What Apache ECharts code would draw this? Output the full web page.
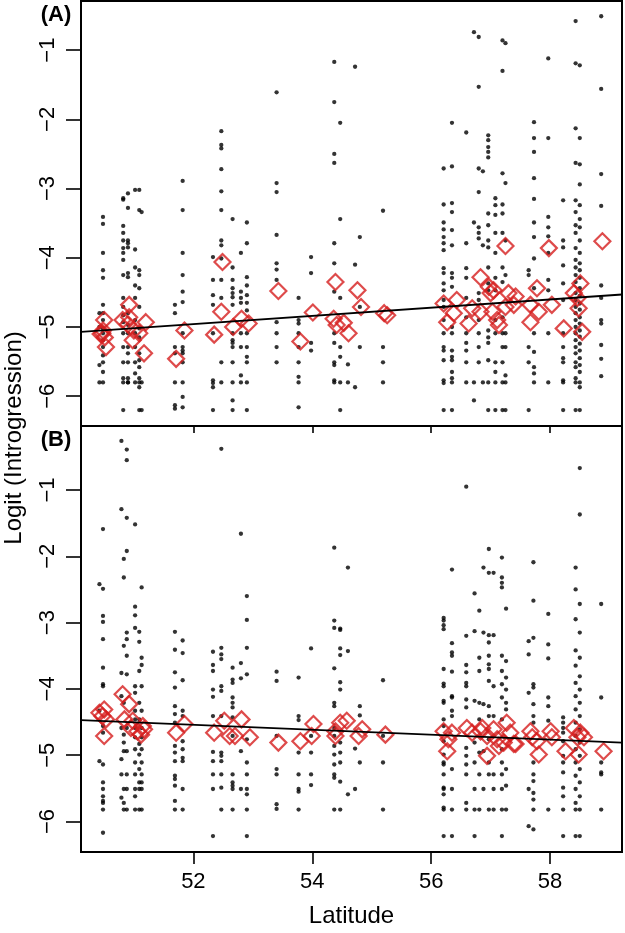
<!DOCTYPE html>
<html>
<head>
<meta charset="utf-8">
<script src="https://cdn.jsdelivr.net/npm/echarts@6/dist/echarts.min.js"></script>
<style>
html,body{margin:0;padding:0;background:#fff;}
#chart{width:625px;height:933px;}
</style>
</head>
<body>
<div id="chart"></div>
<script>
// ---------- tick labels ----------
const xTicks = [52, 54, 56, 58];
const yTicks = [-6, -5, -4, -3, -2, -1];

// ---------- Panel A: individual observations (column latitude + values) ----------
const colLatA = [50.42, 50.48, 50.82, 50.90, 51.02, 51.09, 51.13, 51.69, 51.82, 52.33, 52.47, 52.66, 52.80, 52.90, 53.40, 53.77, 53.98, 54.37, 54.47, 54.60, 54.72, 54.80, 55.19, 56.21, 56.35, 56.59, 56.72, 56.80, 56.87, 56.96, 57.08, 57.20, 57.25, 57.64, 57.73, 57.97, 58.22, 58.43, 58.50, 58.86];
const colValA = [
  [-4.80, -5.00, -5.55, -5.80],
  [-3.41, -3.51, -3.93, -4.18, -4.29, -4.68, -4.80, -4.90, -5.02, -5.09, -5.19, -5.29, -5.41, -5.51, -5.65, -5.80],
  [-3.14, -3.16, -3.54, -3.64, -3.75, -3.86, -3.93, -4.03, -4.25, -4.58, -4.71, -4.83, -4.93, -5.09, -5.29, -5.51, -5.74, -5.80, -6.20],
  [-3.07, -3.28, -3.75, -3.79, -3.85, -4.22, -4.28, -4.80, -4.97, -5.09, -5.29, -5.38, -5.51, -5.74, -5.80, -5.80],
  [-3.02, -3.88, -4.14, -4.40, -4.58, -4.90, -5.09, -5.29, -5.51, -5.67, -5.80],
  [-3.02, -3.31, -4.18, -4.25, -4.44, -4.71, -5.02, -5.15, -5.38, -5.48, -5.58, -5.74, -5.80, -5.87, -6.20],
  [-3.34, -5.80, -6.20],
  [-4.68, -4.80, -5.29, -5.38, -5.80, -6.13, -6.18],
  [-2.89, -3.31, -3.93, -4.25, -4.49, -4.64, -5.09, -5.29, -5.34, -5.38, -5.51, -5.80, -6.01, -6.16],
  [-3.99, -4.32, -4.54, -4.68, -5.09, -5.77, -5.81, -5.87, -6.20],
  [-2.17, -2.37, -2.42, -2.72, -3.04, -3.31, -3.75, -3.82, -4.01, -4.32, -4.58, -5.51, -5.80],
  [-3.44, -4.14, -4.32, -4.44, -4.51, -4.57, -4.68, -5.09, -5.19, -5.23, -5.29, -5.51, -5.80, -6.06, -6.20],
  [-3.93, -4.49, -4.58, -4.65, -5.09, -5.29, -5.70, -5.80],
  [-3.49, -3.79, -4.28, -4.40, -4.54, -4.65, -4.76, -5.09, -5.29, -5.43, -5.51, -5.80, -6.20],
  [-1.61, -2.92, -3.05, -3.67, -4.08, -4.17, -4.32, -4.93, -5.09, -5.29, -5.51],
  [-4.58, -4.90, -4.95, -5.09, -5.29, -5.51, -5.72, -5.80, -6.16],
  [-3.99, -4.22, -5.23, -5.34],
  [-1.17, -1.75, -2.50, -2.63, -3.79, -4.08, -4.49, -5.09, -5.23, -5.51, -5.55, -5.77, -5.80],
  [-2.05, -3.44, -4.58, -5.29, -5.43, -5.80, -6.20],
  [-5.54, -5.80],
  [-1.24, -4.10, -5.87],
  [-3.70, -4.71, -5.29],
  [-3.32, -5.29, -5.51, -5.80],
  [-2.71, -3.23, -3.49, -3.59, -3.70, -3.79, -3.89, -4.15, -4.22, -4.37, -4.47, -4.61, -4.71, -4.90, -5.09, -5.29, -5.34, -5.48, -5.77, -5.81, -6.20],
  [-2.05, -2.68, -3.21, -3.34, -3.60, -3.82, -4.22, -4.29, -4.42, -5.00, -5.09, -5.34, -5.43, -5.48, -5.65, -5.74, -5.80, -6.20],
  [-2.19, -3.79, -4.15, -4.29, -4.58, -4.86, -5.09, -5.23, -5.34, -5.51, -5.80],
  [-0.74, -3.49, -5.80, -6.06],
  [-0.81, -1.53, -2.71, -3.05, -3.56, -3.64, -3.72, -4.51, -4.61, -4.90, -5.09, -5.29, -5.51],
  [-2.75, -3.82, -5.80],
  [-2.23, -2.30, -2.40, -2.47, -2.55, -3.36, -3.53, -3.75, -3.85, -4.14, -4.37, -4.47, -5.05, -5.15, -5.23, -5.48, -5.80, -6.20],
  [-3.14, -3.24, -3.38, -3.64, -3.93, -4.29, -4.47, -4.90, -5.09, -5.51, -5.65, -5.80, -6.20],
  [-0.86, -1.30, -2.78, -3.23, -3.36, -3.64, -4.14, -4.35, -4.86, -5.09, -5.29, -5.51, -5.80, -6.20],
  [-0.90, -2.92, -3.75, -4.25, -5.09, -5.29, -5.70, -5.80, -6.20],
  [-4.18, -4.25, -5.29, -5.51, -6.20],
  [-2.04, -2.27, -2.47, -2.85, -3.15, -3.49, -3.70, -4.01, -4.44, -5.09, -5.36, -5.58, -5.67, -5.80],
  [-1.12, -2.27, -3.41, -3.56, -3.69, -3.93, -4.32, -4.47, -5.09, -5.80],
  [-3.17, -3.75, -3.85, -4.11, -4.37, -4.61, -5.09, -5.29, -5.45, -5.51, -5.77, -5.80, -6.20],
  [-0.58, -1.19, -2.13, -2.63, -3.17, -3.34, -3.53, -3.64, -3.86, -4.03, -4.14, -4.25, -4.35, -4.51, -4.61, -4.71, -4.80, -4.90, -5.00, -5.09, -5.19, -5.29, -5.38, -5.51, -5.58, -5.74, -5.80, -6.20],
  [-1.22, -2.27, -2.65, -2.94, -3.24, -3.44, -3.56, -3.75, -3.93, -4.08, -4.18, -4.29, -4.44, -4.55, -4.66, -4.75, -4.86, -4.95, -5.05, -5.14, -5.24, -5.34, -5.45, -5.55, -5.65, -5.80, -5.87, -6.20],
  [-0.51, -1.56, -2.79, -3.25, -4.40, -4.58, -4.90, -4.95, -5.26, -5.46, -5.71]
];

// ---------- Panel A: population means (red diamonds) ----------
const meanLatA = [50.50, 50.47, 50.51, 50.44, 50.48, 50.53, 50.92, 50.81, 50.92, 50.90, 51.00, 50.98, 51.20, 51.09, 51.17, 51.85, 51.71, 52.35, 52.49, 52.47, 52.67, 52.81, 52.93, 53.43, 53.80, 54.01, 54.39, 54.36, 54.41, 54.53, 54.61, 54.76, 54.82, 55.21, 55.26, 56.21, 56.27, 56.38, 56.43, 56.63, 56.69, 56.83, 56.83, 56.97, 57.05, 57.00, 57.03, 57.11, 57.14, 57.25, 57.30, 57.39, 57.25, 57.42, 57.67, 57.67, 57.78, 57.81, 58.03, 57.98, 58.23, 58.40, 58.51, 58.46, 58.48, 58.54, 58.88];
const meanValA = [-4.90, -5.09, -5.15, -5.10, -5.05, -5.29, -4.68, -4.90, -4.86, -4.96, -5.05, -5.19, -4.93, -5.09, -5.38, -5.05, -5.46, -5.11, -4.06, -4.78, -5.00, -4.88, -4.95, -4.48, -5.21, -4.79, -4.35, -4.88, -4.97, -4.94, -5.09, -4.47, -4.71, -4.80, -4.83, -4.66, -4.93, -4.80, -4.61, -4.95, -4.73, -4.28, -4.78, -4.42, -4.47, -4.51, -4.78, -4.90, -4.97, -4.71, -4.51, -4.68, -3.83, -4.56, -4.68, -4.93, -4.44, -4.78, -4.68, -3.86, -5.02, -4.51, -4.37, -4.58, -4.73, -5.07, -3.76];

// ---------- Panel B: individual observations ----------
const colLatB = [50.42, 50.48, 50.79, 50.83, 50.88, 51.02, 51.09, 51.13, 51.69, 51.82, 52.33, 52.47, 52.66, 52.80, 52.90, 53.40, 53.77, 53.98, 54.37, 54.47, 54.60, 54.72, 54.80, 55.19, 56.21, 56.35, 56.59, 56.73, 56.81, 56.88, 56.97, 57.05, 57.19, 57.26, 57.64, 57.72, 57.97, 58.22, 58.43, 58.50, 58.86];
const colValB = [
  [-2.42, -4.33, -5.09],
  [-1.59, -2.49, -2.90, -2.99, -3.25, -3.68, -3.93, -3.96, -4.56, -4.66, -5.14, -5.41, -5.51, -5.62, -5.69, -5.72, -5.82, -6.17],
  [-0.26, -1.29, -3.76, -4.11, -4.59, -5.06, -5.29, -5.64],
  [-2.04, -2.32, -3.35, -4.21, -4.69, -4.81, -4.94, -5.51, -5.72, -5.82],
  [-0.39, -0.55, -1.42, -1.92, -3.15, -3.25, -3.50, -3.78, -4.59, -4.94, -5.29, -5.51, -5.82],
  [-1.52, -2.76, -2.89, -3.08, -3.96, -4.06, -4.33, -4.46, -4.59, -4.73, -4.91, -5.11, -5.29, -5.51, -5.62, -5.82],
  [-3.14, -3.29, -3.73, -4.21, -4.46, -4.83, -4.99, -5.21, -5.41, -5.51, -5.82],
  [-2.47, -3.53, -3.64, -3.96, -4.33, -4.59, -4.73, -4.91, -5.11, -5.29, -5.41, -5.51, -5.82],
  [-3.14, -3.41, -3.75, -3.98, -4.26, -4.38, -4.51, -4.86, -4.96, -5.09, -5.31, -5.36, -5.46, -5.69, -5.82],
  [-3.27, -3.46, -3.87, -4.33, -4.41, -4.79, -4.91, -5.04, -5.09, -5.51, -5.82],
  [-3.44, -3.64, -3.73, -4.01, -4.12, -4.41, -4.95, -5.09, -5.29, -5.51, -6.22],
  [-0.38, -3.38, -3.48, -3.55, -3.96, -4.03, -4.41, -4.96, -5.01, -5.09, -5.29, -5.49, -5.82],
  [-3.68, -3.86, -3.91, -4.13, -4.21, -4.28, -4.43, -4.71, -5.29, -5.41, -5.46, -5.51, -5.82],
  [-1.66, -3.61, -3.84, -4.94, -5.51],
  [-2.60, -2.96, -3.38, -3.78, -4.76, -5.11, -5.29, -5.51, -5.59, -5.82, -6.22],
  [-3.74, -3.88, -4.71, -5.21, -5.29, -5.74, -5.81],
  [-3.83, -4.41, -4.47, -4.96, -5.29, -5.51, -5.55, -5.82],
  [-3.39, -4.71, -4.96, -5.29, -5.45],
  [-1.87, -2.97, -3.08, -3.69, -4.21, -4.26, -4.59, -4.71, -4.86, -4.99, -5.14, -5.29, -5.34, -5.82],
  [-3.09, -3.11, -3.39, -3.49, -3.90, -4.01, -4.81, -4.96, -5.11, -5.40, -5.82],
  [-2.17, -3.43, -5.59],
  [-4.90, -5.51],
  [-4.26, -4.40, -5.11],
  [-3.87, -4.71, -5.11, -5.82],
  [-2.93, -2.97, -3.04, -3.10, -3.70, -3.92, -3.96, -4.18, -4.21, -4.46, -4.56, -4.79, -4.99, -5.11, -5.14, -5.29, -5.49, -5.51, -5.59, -5.79, -5.82, -6.22],
  [-2.20, -3.31, -3.45, -3.50, -3.74, -4.11, -4.13, -4.33, -4.41, -5.21, -5.51, -5.82, -6.22],
  [-0.95, -3.20, -3.64, -3.75, -3.91, -3.96, -4.16, -4.28, -4.89, -5.01, -5.14, -5.29, -5.72, -5.82],
  [-2.56, -3.13, -4.18, -4.81, -5.11, -5.51, -5.82, -6.22],
  [-2.82, -3.53, -3.73, -4.21, -4.46, -4.96, -5.29, -5.82],
  [-2.17, -3.15, -4.23, -4.94, -5.51],
  [-1.89, -2.25, -3.19, -3.30, -3.50, -3.63, -3.70, -3.88, -4.26, -4.41, -4.76, -5.11, -5.29, -5.82],
  [-2.25, -3.19, -3.96, -4.41, -5.29, -5.51, -5.82],
  [-2.02, -2.32, -2.40, -2.47, -3.50, -3.73, -3.93, -4.13, -4.46, -4.91, -5.11, -5.29, -5.51, -5.82, -6.22],
  [-2.79, -3.58, -3.83, -4.01, -4.21, -4.31, -5.21, -5.46, -5.82],
  [-3.28, -3.48, -4.06, -5.51, -6.07],
  [-2.09, -2.67, -3.23, -3.93, -3.98, -4.23, -4.41, -4.51, -5.11, -5.29, -5.39, -5.57, -5.67, -5.82, -6.12],
  [-2.87, -3.33, -3.54, -4.13, -4.26, -4.48, -5.82],
  [-4.43, -4.51, -4.59, -4.66, -4.79, -5.01, -5.11, -5.26, -5.49, -5.62, -5.82, -6.22],
  [-2.17, -2.50, -2.95, -3.42, -3.65, -3.91, -4.11, -4.31, -4.51, -4.71, -4.91, -5.11, -5.31, -5.51, -5.72, -5.82, -6.22],
  [-0.67, -1.37, -2.72, -3.15, -3.53, -3.81, -4.01, -4.21, -4.41, -4.61, -4.81, -5.01, -5.21, -5.41, -5.62, -5.82, -6.22],
  [-2.72, -4.13, -5.11, -5.26, -5.29, -5.82]
];

// ---------- Panel B: population means ----------
const meanLatB = [50.42, 50.50, 50.47, 50.53, 50.50, 50.81, 50.92, 50.84, 50.98, 50.95, 51.06, 51.15, 51.17, 51.12, 51.85, 51.71, 52.35, 52.52, 52.61, 52.81, 52.70, 52.95, 53.43, 53.80, 54.02, 53.99, 54.39, 54.39, 54.47, 54.58, 54.84, 54.78, 55.23, 56.21, 56.27, 56.35, 56.29, 56.60, 56.69, 56.83, 56.86, 56.94, 56.94, 57.05, 57.11, 57.14, 57.22, 57.27, 57.33, 57.39, 57.42, 57.67, 57.70, 57.78, 57.81, 58.01, 58.03, 58.26, 58.40, 58.51, 58.46, 58.48, 58.57, 58.90];
const meanValB = [-4.36, -4.31, -4.41, -4.46, -4.71, -4.08, -4.23, -4.46, -4.48, -4.59, -4.64, -4.56, -4.61, -4.69, -4.53, -4.66, -4.66, -4.48, -4.71, -4.46, -4.71, -4.73, -4.81, -4.79, -4.53, -4.71, -4.64, -4.71, -4.51, -4.48, -4.61, -4.71, -4.69, -4.64, -4.94, -4.66, -4.76, -4.59, -4.66, -4.64, -4.59, -4.71, -5.01, -4.61, -4.76, -4.86, -4.81, -4.51, -4.66, -4.83, -4.83, -4.64, -4.73, -4.79, -4.99, -4.64, -4.73, -4.94, -4.59, -4.66, -4.73, -4.99, -4.73, -4.94];

// ---------- regression fits [intercept, slope] ----------
const fitA = [-8.0415, 0.0593];
const fitB = [-2.598, -0.03736];

// ---------- axis ranges ----------
const xRange = [50.11, 59.21];
const yRangeA = [-6.43, -0.29];
const yRangeB = [-6.46, -0.035];

function colsToPoints(lats, vals) {
  const out = [];
  lats.forEach((la, i) => vals[i].forEach(v => out.push([la, v])));
  return out;
}
function zipPts(lats, vals) { return lats.map((la, i) => [la, vals[i]]); }
function fitLine(f) { return xRange.map(x => [x, f[0] + f[1] * x]); }

const FONT = '"Liberation Sans", Arial, Helvetica, sans-serif';
const RED = '#d61e1e';
const fmt = v => (v < 0 ? '\u2212' : '') + Math.abs(v);

function xAxisCfg(gi, showLabels) {
  return {
    gridIndex: gi, type: 'value', min: xRange[0], max: xRange[1],
    axisLine: { show: false },
    splitLine: { show: false },
    axisTick: { show: true, customValues: xTicks, length: showLabels ? 12 : 7, lineStyle: { color: '#000', width: 1.6 } },
    axisLabel: showLabels ? { show: true, customValues: xTicks, fontSize: 22, fontFamily: FONT, color: '#000', margin: 19 } : { show: false },
    name: showLabels ? 'Latitude' : '',
    nameLocation: 'middle', nameGap: 52,
    nameTextStyle: { fontSize: 24, fontFamily: FONT, color: '#000' }
  };
}
function yAxisCfg(gi, rng) {
  return {
    gridIndex: gi, type: 'value', min: rng[0], max: rng[1],
    axisLine: { show: false },
    splitLine: { show: false },
    axisTick: { show: true, customValues: yTicks, length: 15, lineStyle: { color: '#000', width: 1.6 } },
    axisLabel: { show: true, customValues: yTicks, rotate: 90, fontSize: 22, fontFamily: FONT, color: '#000', margin: 22, formatter: fmt }
  };
}
function dotSeries(idx, data) {
  return { type: 'scatter', xAxisIndex: idx, yAxisIndex: idx, data, symbol: 'circle', symbolSize: 4.3,
    itemStyle: { color: '#000' }, silent: true, z: 2 };
}
function meanSeries(idx, data) {
  return { type: 'scatter', xAxisIndex: idx, yAxisIndex: idx, data, symbol: 'diamond', symbolSize: 16,
    itemStyle: { color: 'rgba(0,0,0,0)', borderColor: RED, borderWidth: 2.2 }, silent: true, z: 3 };
}
function lineSeries(idx, f) {
  return { type: 'line', xAxisIndex: idx, yAxisIndex: idx, data: fitLine(f), symbol: 'none',
    lineStyle: { color: '#000', width: 1.8 }, silent: true, z: 4 };
}

const chart = echarts.init(document.getElementById('chart'), null, { renderer: 'canvas' });
chart.setOption({
  animation: false,
  backgroundColor: '#fff',
  grid: [
    { left: 81, top: 1, width: 541, height: 425, show: true, borderColor: '#000', borderWidth: 2, backgroundColor: 'transparent' },
    { left: 81, top: 426, width: 541, height: 426, show: true, borderColor: '#000', borderWidth: 2, backgroundColor: 'transparent' }
  ],
  xAxis: [xAxisCfg(0, false), xAxisCfg(1, true)],
  yAxis: [yAxisCfg(0, yRangeA), yAxisCfg(1, yRangeB)],
  graphic: [
    { type: 'text', x: 56, y: 15, style: { text: '(A)', font: 'bold 22px ' + FONT, fill: '#000', textAlign: 'center', textVerticalAlign: 'middle' } },
    { type: 'text', x: 56, y: 440, style: { text: '(B)', font: 'bold 22px ' + FONT, fill: '#000', textAlign: 'center', textVerticalAlign: 'middle' } },
    { type: 'text', x: 14, y: 438, rotation: Math.PI / 2, style: { text: 'Logit (Introgression)', font: '24px ' + FONT, fill: '#000', textAlign: 'center', textVerticalAlign: 'middle' } }
  ],
  series: [
    dotSeries(0, colsToPoints(colLatA, colValA)),
    meanSeries(0, zipPts(meanLatA, meanValA)),
    lineSeries(0, fitA),
    dotSeries(1, colsToPoints(colLatB, colValB)),
    meanSeries(1, zipPts(meanLatB, meanValB)),
    lineSeries(1, fitB)
  ]
});
</script>
</body>
</html>
